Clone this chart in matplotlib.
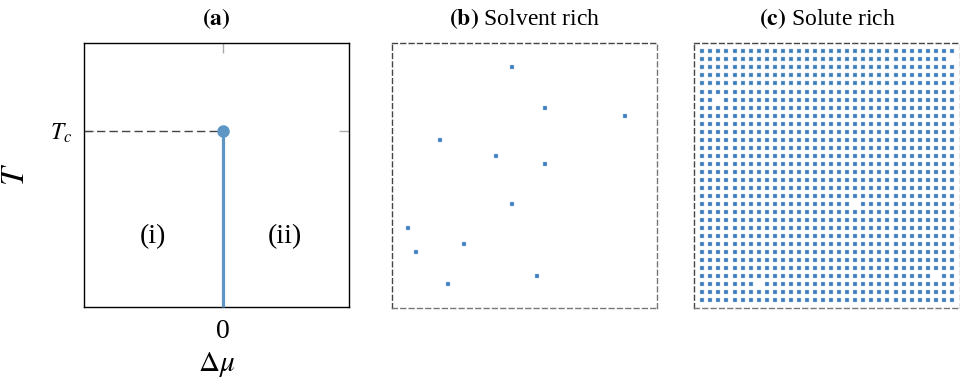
import matplotlib
matplotlib.use('Agg')
from matplotlib import pyplot as plt
import numpy as np

plt.rcParams['font.family'] = 'serif'
plt.rcParams['font.serif'] = ['Liberation Serif', 'DejaVu Serif']
plt.rcParams['mathtext.fontset'] = 'stix'

# panel (a): phase diagram
x_lim = (-1.05, 0.95)
y_lim = (0.0, 1.5)
t_c = 1.0
mu_0 = 0.0
region_labels = ['(i)', '(ii)']
region_x = [-0.53, 0.47]
region_y = [0.40, 0.40]

# panels (b), (c): 32x32 lattice
n_side = 32
# occupied sites in the solvent rich state (column, row from top)
solvent_cols = [14, 18, 28, 5, 12, 18, 14, 1, 8, 2, 17, 6]
solvent_rows = [2, 7, 8, 11, 13, 14, 19, 22, 24, 25, 28, 29]
# empty sites in the solute rich state
hole_cols = [31, 2, 19, 29, 7]
hole_rows = [1, 6, 19, 28, 29]

line_col = '#5e97c6'
dot_col = '#3a7cbd'

fig = plt.figure(figsize=(9.6, 3.9), dpi=100)

# ---- (a)
ax = fig.add_axes([0.0878, 0.2136, 0.2753, 0.677])
ax.set_xlim(*x_lim)
ax.set_ylim(*y_lim)
ax.plot([x_lim[0], mu_0], [t_c, t_c], color='#444444', lw=1.0,
        linestyle=(0, (6, 3)), zorder=3)
ax.plot([mu_0, mu_0], [y_lim[0], t_c], color=line_col, lw=2.3, zorder=4,
        solid_capstyle='butt', clip_on=False)
ax.plot([mu_0], [t_c], 'o', color=line_col, ms=8, zorder=5)
for lab, xx, yy in zip(region_labels, region_x, region_y):
    ax.text(xx, yy, lab, fontsize=20, ha='center', va='center')
ax.set_xticks([mu_0])
ax.set_xticklabels(['0'])
ax.set_yticks([t_c])
ax.set_yticklabels([r'$T_c$'])
ax.tick_params(direction='in', length=7.5, width=1.0, color='#aaaaaa',
               top=True, right=True, pad=9)
ax.tick_params(axis='x', labelsize=20)
ax.tick_params(axis='y', labelsize=17, pad=9)
for s in ax.spines.values():
    s.set_linewidth(1.0)
ax.set_xlabel(r'$\Delta\mu$', fontsize=21, labelpad=4)
ax.set_ylabel(r'$T$', fontsize=24)
ax.yaxis.set_label_coords(-0.2, 0.5)
ax.set_title(r'$\mathbf{(a)}$', fontsize=17, pad=13)

# ---- (b), (c)
gx, gy = np.meshgrid(np.arange(n_side), np.arange(n_side))
full = np.ones((n_side, n_side), dtype=bool)
full[hole_rows, hole_cols] = False

panels = [
    (0.408, r'$\mathbf{(b)}$ Solvent rich', solvent_cols, solvent_rows),
    (0.7232, r'$\mathbf{(c)}$ Solute rich', gx[full], gy[full]),
]
for left, title, xs, ys in panels:
    a = fig.add_axes([left, 0.209, 0.2767, 0.680])
    a.scatter(xs, ys, marker='s', s=12, color=dot_col, linewidths=0.3,
              edgecolors='#b3cfe8')
    a.set_xlim(-1, n_side)
    a.set_ylim(n_side, -1)
    a.set_xticks([])
    a.set_yticks([])
    for side, s in a.spines.items():
        s.set_linestyle((0, (3.5, 2.5)))
        s.set_linewidth(1.0)
        s.set_color('#444444' if side in ('top', 'left') else '#777777')
    a.set_title(title, fontsize=17, pad=13)

fig.savefig('out.png', dpi=100)
